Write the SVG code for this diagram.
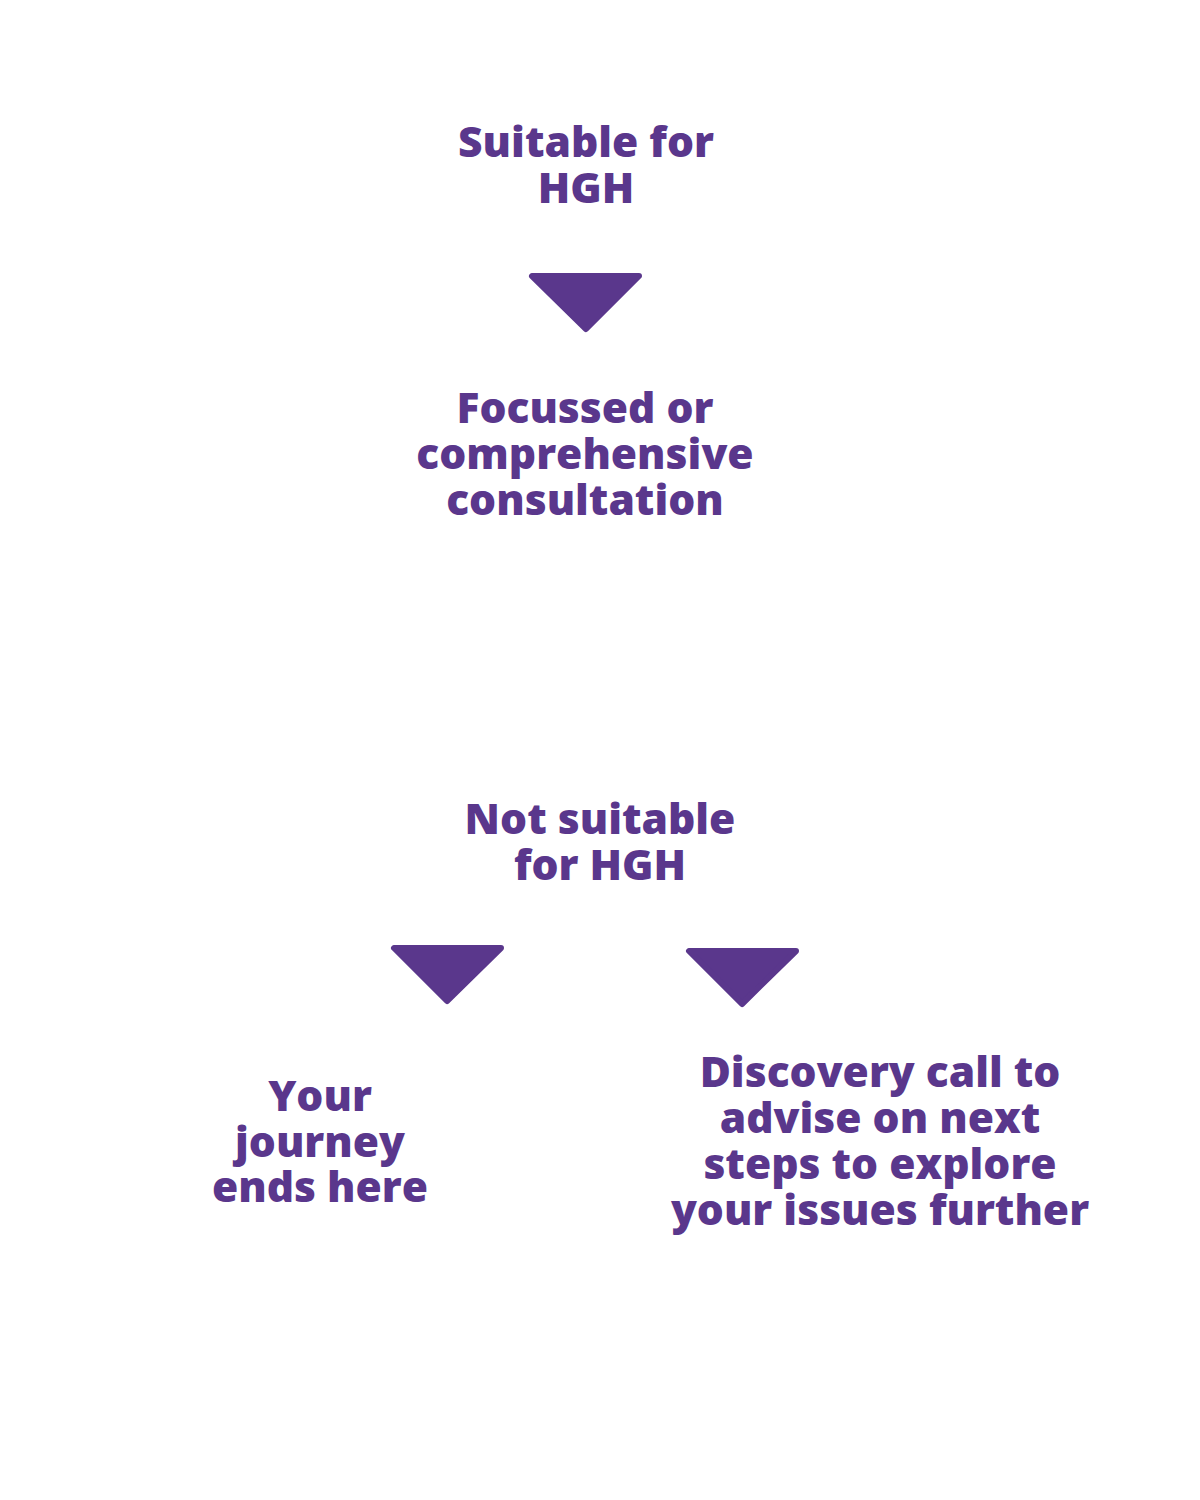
<svg xmlns="http://www.w3.org/2000/svg" width="1200" height="1500" viewBox="0 0 1200 1500">
<style>
.t{font-family:"Open Sans","Noto Sans",sans-serif;font-weight:800;font-size:42.5px;fill:#5A378C;text-anchor:middle}
.tri{fill:#5A378C;stroke:#5A378C;stroke-width:6;stroke-linejoin:round}
</style>
<rect width="1200" height="1500" fill="#ffffff"/>
<g id="node-suitable"><text class="t" x="586" y="157">Suitable for</text><text class="t" x="586" y="203">HGH</text></g>
<g id="node-consultation"><text class="t" x="585" y="423">Focussed or</text><text class="t" x="585" y="469">comprehensive</text><text class="t" x="585" y="515">consultation</text></g>
<g id="node-not-suitable"><text class="t" x="600" y="834">Not suitable</text><text class="t" x="600" y="880">for HGH</text></g>
<g id="node-journey-ends"><text class="t" x="320" y="1111">Your</text><text class="t" x="320" y="1157">journey</text><text class="t" x="320" y="1202">ends here</text></g>
<g id="node-discovery"><text class="t" x="880" y="1087">Discovery call to</text><text class="t" x="880" y="1133">advise on next</text><text class="t" x="880" y="1179">steps to explore</text><text class="t" x="880" y="1225">your issues further</text></g>
<g id="connectors">
<polygon class="tri" points="532,276 639,276 586,329"/>
<polygon class="tri" points="394,948 501,948 447,1001"/>
<polygon class="tri" points="689,951 796,951 742,1004"/>
</g>
</svg>
